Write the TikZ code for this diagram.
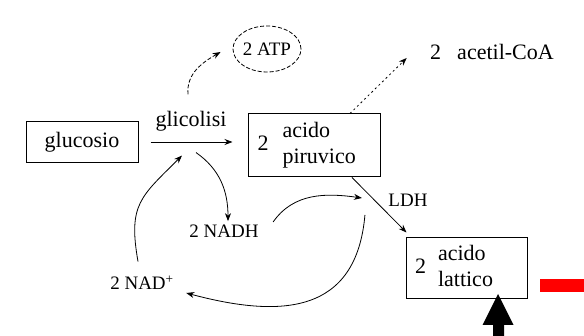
\documentclass[tikz,border=0pt]{standalone}
\usepackage{fontspec}
\setmainfont{Liberation Serif}
\usetikzlibrary{arrows.meta,shapes.geometric}
\tikzset{box/.style={draw,rectangle,line width=1pt},
	lbl/.style={font=\fontsize{19}{22}\selectfont},
	big/.style={font=\fontsize{22}{26}\selectfont},
	flow/.style={draw,line width=0.8pt,-{Stealth[length=8pt,width=6pt]}},
	dashflow/.style={flow,dash pattern=on 4pt off 2pt},
	dotflow/.style={flow,dash pattern=on 2pt off 3pt}}

\begin{document}
\begin{tikzpicture}[x=1pt,y=1pt]
\useasboundingbox (0,0) rectangle (584,336);
\node [box,big,minimum width=112pt,minimum height=41pt] (glu) at (82,194) {glucosio};
\node [box,big,minimum height=63pt,text width=113pt,align=left,inner xsep=9.5pt] (pir) at (314,190.5)
  {2\hspace{14pt}\begin{tabular}{@{}l@{}}acido\\piruvico\end{tabular}};
\node [box,big,minimum height=61pt,text width=103pt,align=left,inner xsep=9pt] (lat) at (466.5,67.5)
  {2\hspace{12pt}\begin{tabular}{@{}l@{}}acido\\lattico\end{tabular}};
\node [ellipse,draw,dash pattern=on 4pt off 2pt,line width=0.8pt,lbl,minimum width=68pt,minimum height=46pt,inner sep=0pt] (atp) at (267,287) {2 ATP};
\node [big] (acoa) at (492,284) {2\hspace{16pt}acetil-CoA};
\node [big] (glic) at (191,215) {glicolisi};
\node [lbl] (nadh) at (224,105) {2 NADH};
\node [lbl] (nad) at (142,53) {2 NAD\textsuperscript{+}};
\node [lbl] (ldh) at (408,136) {LDH};
\draw [flow] ([xshift=12pt]glu.east) -- ([xshift=-15pt]pir.west |- glu.east);
\draw [dashflow] ([shift={(-3pt,13pt)}]glic.north) to[out=95,in=210] ([shift={(-12pt,-3pt)}]atp.west);
\draw [dotflow] ([xshift=36pt]pir.north) -- ([shift={(-20pt,-6pt)}]acoa.west);
\draw [flow] ([xshift=38pt]pir.south) -- ([shift={(1pt,5pt)}]lat.north west);
\draw [flow] ([shift={(5pt,-18pt)}]glic.south) to[out=-35,in=90] ([xshift=4pt]nadh.north);
\draw [flow] ([shift={(-4pt,11pt)}]nad.north) to[out=100,in=225,looseness=1.3] ([shift={(-9pt,-21pt)}]glic.south);
\draw [flow] ([shift={(11pt,9pt)}]nadh.east) to[out=55,in=172] ([shift={(-23pt,2pt)}]ldh.west);
\draw [flow] ([shift={(-20pt,-15pt)}]ldh.west) to[out=-95,in=-15,looseness=1.3] ([shift={(9pt,-10pt)}]nad.east);
\fill [red] (540,44) rectangle (584,57);
\fill (493,0) -- (493,11) -- (482.5,11) -- (498,42) -- (513.5,11) -- (504,11) -- (504,0) -- cycle;
\end{tikzpicture}
\end{document}
